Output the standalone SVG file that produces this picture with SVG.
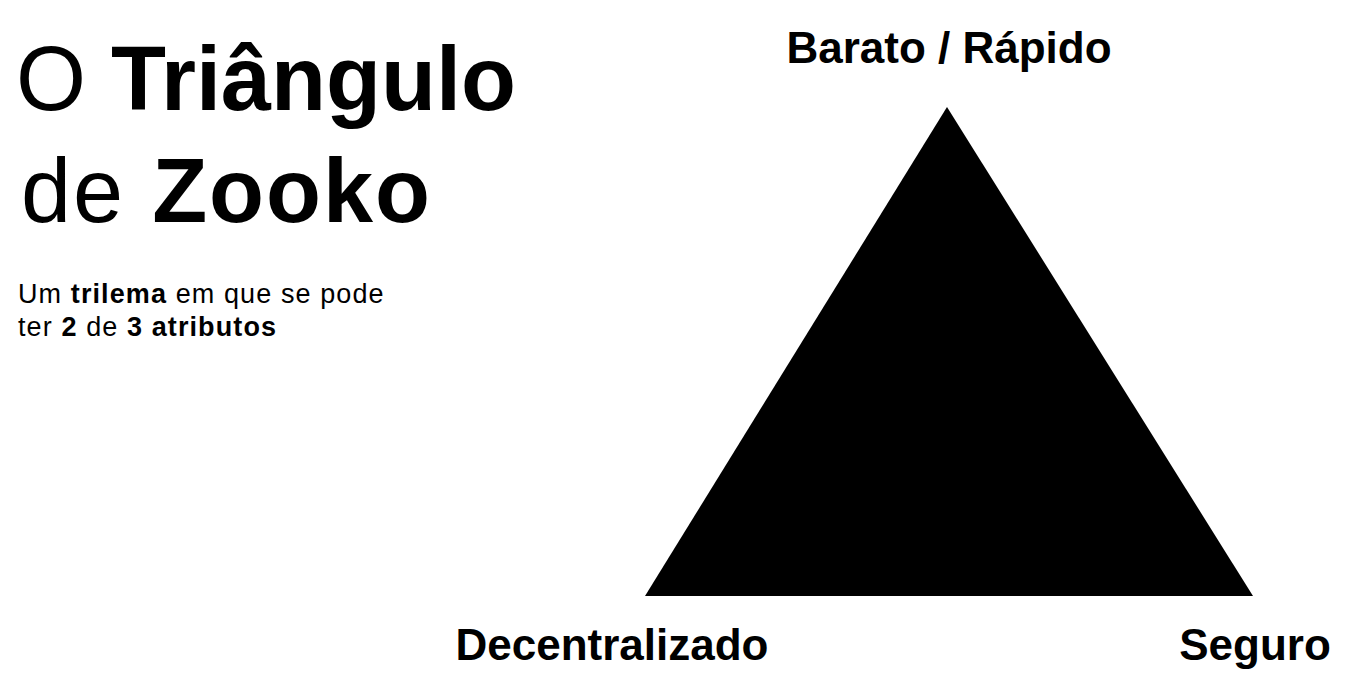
<svg xmlns="http://www.w3.org/2000/svg" width="1347" height="698" viewBox="0 0 1347 698">
<style>
text{font-family:"Liberation Sans",Arial,sans-serif;fill:#000}
.b{font-weight:bold}
.title{font-size:90px}
.sub{font-size:27px;letter-spacing:1.1px}
.lbl{font-size:44px;font-weight:bold;text-anchor:middle}
</style>
<rect width="1347" height="698" fill="#fff"/>
<g id="title">
<text class="title" x="16" y="110">O <tspan class="b">Triângulo</tspan></text>
<text class="title" x="21" y="222" letter-spacing="2">de <tspan class="b">Zooko</tspan></text>
</g>
<g id="subtitle">
<text class="sub" x="18" y="303">Um <tspan class="b">trilema</tspan> em que se pode</text>
<text class="sub" x="18" y="336">ter <tspan class="b">2</tspan> de <tspan class="b">3 atributos</tspan></text>
</g>
<g id="triangle">
<polygon points="947,107 1253,596 645,596" fill="#000"/>
</g>
<g id="label-top"><text class="lbl" x="949" y="63">Barato / Rápido</text></g>
<g id="label-left"><text class="lbl" x="612" y="660">Decentralizado</text></g>
<g id="label-right"><text class="lbl" x="1255" y="660">Seguro</text></g>
<g id="connectors"></g>
</svg>
